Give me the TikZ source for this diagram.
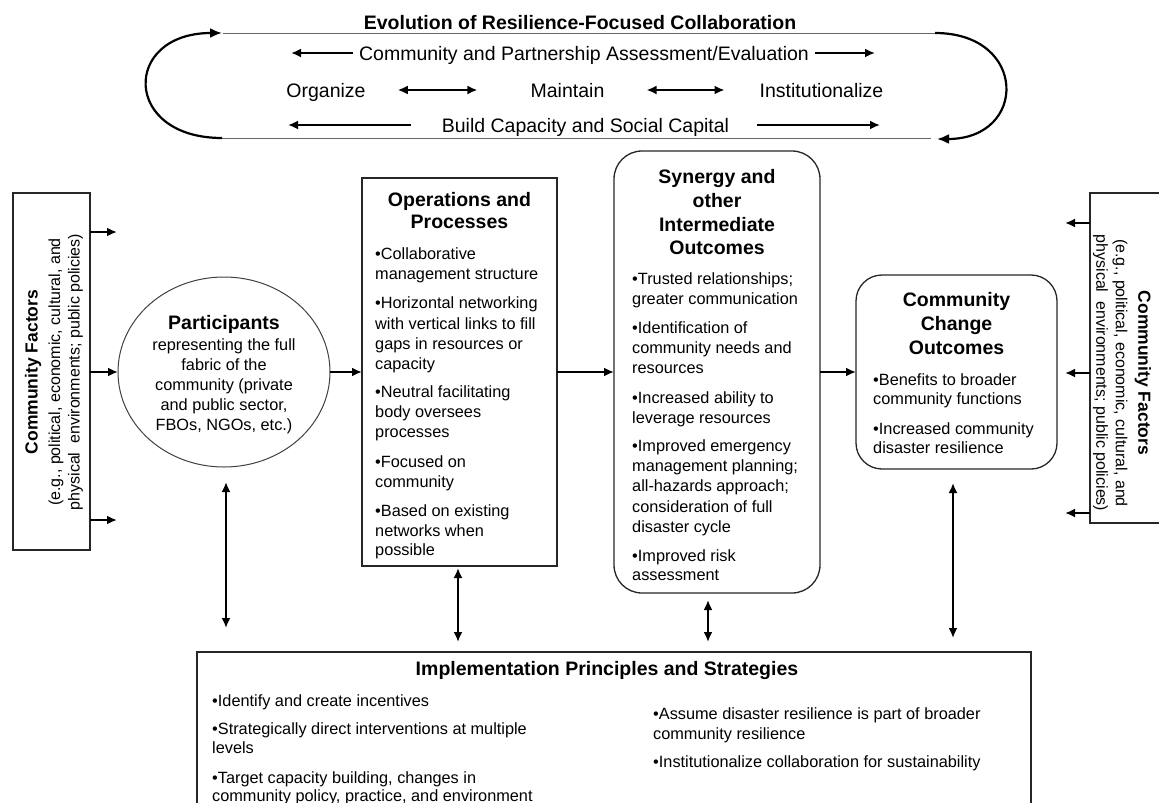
\documentclass[tikz,border=0pt]{standalone}
\usepackage{fontspec}
\setmainfont{Liberation Sans}
\usetikzlibrary{arrows.meta,shapes.geometric}

\begin{document}
\begin{tikzpicture}[x=1pt,y=-1pt,
  body/.style={inner sep=0pt, anchor=base west, font=\fontsize{16.3}{20}\selectfont},
  bodyc/.style={inner sep=0pt, anchor=base, font=\fontsize{16.3}{20}\selectfont},
  head/.style={inner sep=0pt, anchor=base, font=\fontsize{19.5}{24}\selectfont\bfseries},
  toptxt/.style={inner sep=0pt, anchor=base, font=\fontsize{19.5}{24}\selectfont},
  box/.style={draw=black!85, line width=1.3pt, inner sep=0pt, outer sep=0pt, anchor=north west},
  arr/.style={line width=2.1pt, -{Latex[length=10pt,width=9pt]}},
  darr/.style={line width=2.1pt, {Latex[length=10pt,width=9pt]}-{Latex[length=10pt,width=9pt]}},
  loopline/.style={draw=black!60, line width=0.9pt},
  looparc/.style={line width=2.2pt, -{Latex[length=12pt,width=10pt]}},
  sidetxt/.style={inner sep=0pt, align=center, font=\fontsize{16}{19.5}\selectfont}
]
\useasboundingbox (0,0) rectangle (1159,803);
\clip (0,0) rectangle (1159,803);

% ---------- top evolution loop ----------
\node[head] (title) at (580,29) {Evolution of Resilience-Focused Collaboration};
\draw[loopline] (223,33) -- (935,33);
\draw[loopline] (220,138) -- (931,138);
\draw[looparc] (222,138) .. controls (122,138) and (122,33) .. (222,33);
\draw[looparc] (935,33) .. controls (1028,33) and (1028,139) .. (937,139);

\node[toptxt, inner xsep=6pt] (assess) at (584,60) {Community and Partnership Assessment/Evaluation};
\coordinate (assessL) at (291,53);
\coordinate (assessR) at (875,53);
\draw[arr] (assess.west |- assessL) -- (assessL);
\draw[arr] (assess.east |- assessR) -- (assessR);

\node[toptxt] (org) at (326,97) {Organize};
\node[toptxt] (mnt) at (567.5,97) {Maintain};
\node[toptxt] (inst) at (821.5,97) {Institutionalize};
\coordinate (row2) at (0,90);
\draw[darr, shorten <=32pt, shorten >=53pt] (org.east |- row2) -- (mnt.west |- row2);
\draw[darr, shorten <=42pt, shorten >=35pt] (mnt.east |- row2) -- (inst.west |- row2);

\node[toptxt] (bcap) at (585.5,132) {Build Capacity and Social Capital};
\coordinate (bcapL) at (288,125);
\coordinate (bcapR) at (880,125);
\draw[arr, shorten <=31pt] (bcap.west |- bcapL) -- (bcapL);
\draw[arr, shorten <=28pt] (bcap.east |- bcapR) -- (bcapR);

% ---------- boxes ----------
\node[box, minimum width=77pt, minimum height=357pt] (cfl) at (13,193) {};
\node[box, minimum width=90pt, minimum height=330pt] (cfr) at (1090,193) {};
\node[draw=black!75, line width=1pt, ellipse, inner sep=0pt, outer sep=0pt,
      minimum width=212pt, minimum height=190pt] (part) at (224,372) {};
\node[box, minimum width=195pt, minimum height=388pt] (ops) at (362,178) {};
\node[box, rounded corners=28pt, minimum width=206pt, minimum height=442pt] (syn) at (614,151) {};
\node[box, rounded corners=26pt, minimum width=201pt, minimum height=194pt] (cco) at (856,275) {};
\node[box, minimum width=834pt, minimum height=180pt] (impl) at (197,652) {};

% ---------- side texts ----------
\node[sidetxt, rotate=90] (cfltxt) at (54,372)
  {{\fontsize{17.5}{19.5}\selectfont\bfseries Community Factors}\\[3pt]
   (e.g., political, economic, cultural, and\\
   physical\ \ environments; public policies)};
\node[sidetxt, rotate=-90] (cfrtxt) at (1122,373)
  {{\fontsize{17.5}{19.5}\selectfont\bfseries Community Factors}\\[3pt]
   (e.g., political, economic, cultural, and\\
   physical\ \ environments; public policies)};

% ---------- participants ----------
\node[head] (parth) at (224,329) {Participants};
\foreach \y/\t [count=\i] in {350/{representing the full},370/{fabric of the},390/{community (private},410/{and public sector,},430/{FBOs, NGOs, etc.)}}
  \node[bodyc] (part-\i) at (224,\y) {\t};

% ---------- operations ----------
\node[head] (opsh1) at (459.5,206) {Operations and};
\node[head] (opsh2) at (459.5,228) {Processes};
\foreach \y/\t [count=\i] in {259/{•Collaborative},279/{management structure},
  308/{•Horizontal networking},329/{with vertical links to fill},349/{gaps in resources or},369/{capacity},
  397/{•Neutral facilitating},417/{body oversees},437/{processes},
  467/{•Focused on},487/{community},
  516/{•Based on existing},536/{networks when},555/{possible}}
  \node[body] (ops-\i) at (375,\y) {\t};

% ---------- synergy ----------
\node[head] (synh1) at (717,183) {Synergy and};
\node[head] (synh2) at (717,207) {other};
\node[head] (synh3) at (717,231) {Intermediate};
\node[head] (synh4) at (717,254) {Outcomes};
\foreach \y/\t [count=\i] in {284/{•Trusted relationships;},304/{greater communication},
  333/{•Identification of},353/{community needs and},373/{resources},
  403/{•Increased ability to},423/{leverage resources},
  451/{•Improved emergency},471/{management planning;},491/{all-hazards approach;},512/{consideration of full},532/{disaster cycle},
  561/{•Improved risk},580/{assessment}}
  \node[body] (syn-\i) at (632,\y) {\t};

% ---------- community change outcomes ----------
\node[head] (ccoh1) at (956.5,306) {Community};
\node[head] (ccoh2) at (956.5,330) {Change};
\node[head] (ccoh3) at (956.5,354) {Outcomes};
\foreach \y/\t [count=\i] in {385/{•Benefits to broader},404/{community functions},
  434/{•Increased community},453/{disaster resilience}}
  \node[body] (cco-\i) at (873,\y) {\t};

% ---------- implementation ----------
\node[head] (implh) at (607,675) {Implementation Principles and Strategies};
\foreach \y/\t [count=\i] in {706/{•Identify and create incentives},
  734/{•Strategically direct interventions at multiple},753/{levels},
  783/{•Target capacity building, changes in},801/{community policy, practice, and environment}}
  \node[body] (impl-l\i) at (212,\y) {\t};
\foreach \y/\t [count=\i] in {719/{•Assume disaster resilience is part of broader},739/{community resilience},
  767/{•Institutionalize collaboration for sustainability}}
  \node[body] (impl-r\i) at (653,\y) {\t};

% ---------- horizontal connectors ----------
\coordinate (cflA) at (117,232);
\coordinate (cflC) at (117,520);
\draw[arr] (cfl.east |- cflA) -- (cflA);
\draw[arr] (cfl.east |- part.west) -- (part.west);
\draw[arr] (cfl.east |- cflC) -- (cflC);
\draw[arr] (part.east) -- (ops.west);
\draw[arr] (ops.east) -- (syn.west);
\draw[arr] (syn.east) -- (cco.west);
\coordinate (cfrA) at (1065,223);
\coordinate (cfrB) at (1065,373);
\coordinate (cfrC) at (1065,513);
\draw[arr] (cfr.west |- cfrA) -- (cfrA);
\draw[arr] (cfr.west |- cfrB) -- (cfrB);
\draw[arr] (cfr.west |- cfrC) -- (cfrC);

% ---------- vertical connectors ----------
\coordinate (v1) at (226,0);
\coordinate (v2) at (458,0);
\coordinate (v3) at (708,0);
\coordinate (v4) at (953,0);
\draw[darr, shorten <=15pt, shorten >=24pt] (part.south -| v1) -- (impl.north -| v1);
\draw[darr, shorten <=2pt, shorten >=10pt] (ops.south -| v2) -- (impl.north -| v2);
\draw[darr, shorten <=7pt, shorten >=10pt] (syn.south -| v3) -- (impl.north -| v3);
\draw[darr, shorten <=14pt, shorten >=14pt] (cco.south -| v4) -- (impl.north -| v4);
\end{tikzpicture}
\end{document}
